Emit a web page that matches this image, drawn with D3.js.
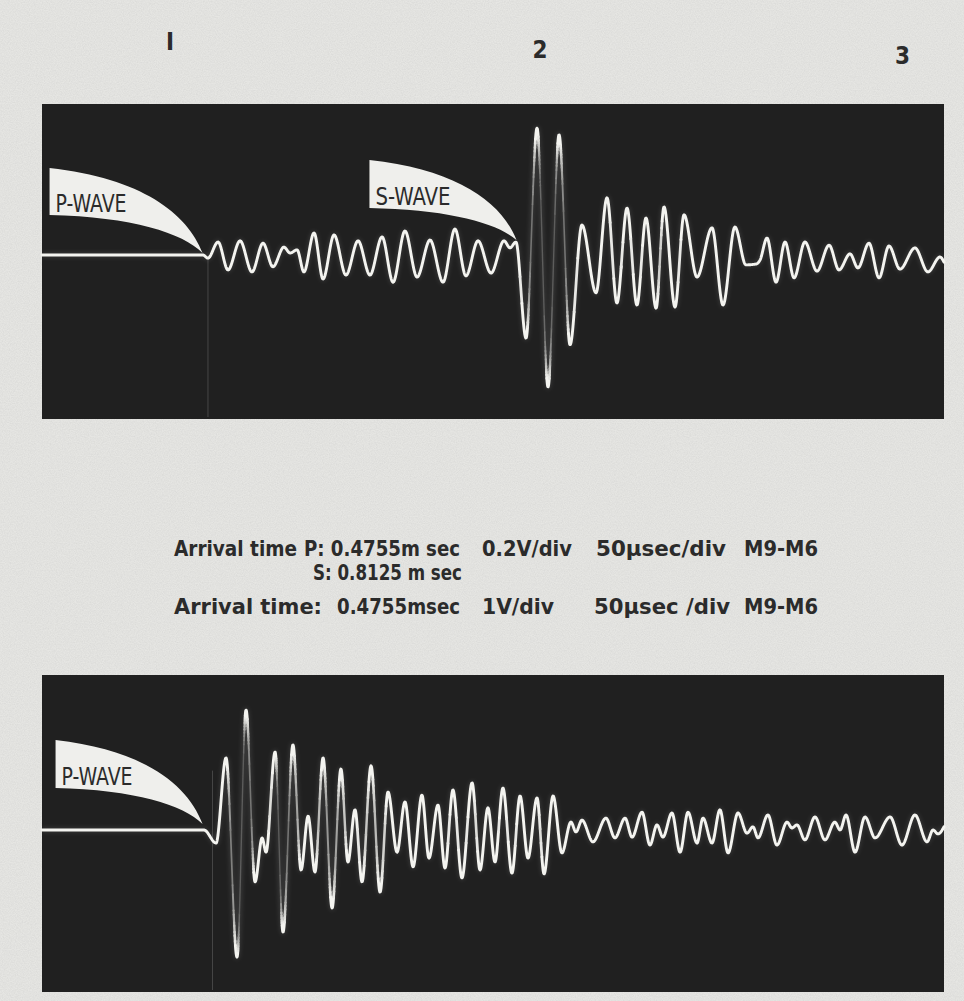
<!DOCTYPE html>
<html>
<head>
<meta charset="utf-8">
<script src="https://cdn.jsdelivr.net/npm/d3@7"></script>
<style>
  html, body { margin: 0; padding: 0; background: #e6e6e3; }
  svg { display: block; }
</style>
</head>
<body>
<script>
// ---------------------------------------------------------------
// Oscilloscope records, time base 50 µs/div (10 div full screen)
// ---------------------------------------------------------------
const timeDomainUs = [0, 500];

// Upper record, 0.2 V/div: turning points of the trace (time in µs, deflection in div)
const upperTimeUs = [0, 89.2, 92.0, 97.6, 103.1, 109.8, 116.4, 122.5, 128.0, 134.1, 137.5, 141.4,
  145.2, 150.8, 155.8, 161.9, 168.5, 175.2, 181.8, 188.5, 194.6, 201.2, 207.9, 215.1, 222.3,
  228.9, 235.0, 241.7, 248.9, 256.1, 259.4, 262.7, 268.3, 274.4, 280.5, 286.6, 292.7, 299.3,
  307.1, 313.2, 318.7, 324.3, 329.8, 334.8, 340.4, 344.8, 350.9, 355.9, 363.1, 371.4, 377.5,
  384.1, 390.2, 395.8, 398.0, 401.9, 406.9, 411.9, 416.9, 422.9, 429.6, 436.3, 441.8, 447.9,
  452.3, 458.4, 464.0, 469.5, 475.6, 483.9, 491.1, 497.8, 500];
const upperDiv = [0, 0, -0.08, 0.33, -0.38, 0.36, -0.43, 0.30, -0.30, 0.20, 0.05, 0.13,
  -0.43, 0.56, -0.61, 0.51, -0.51, 0.36, -0.51, 0.46, -0.69, 0.61, -0.56, 0.38, -0.69,
  0.66, -0.53, 0.36, -0.46, 0.36, 0.18, 0.33, -2.11, 3.22, -3.35, 3.05, -2.28, 0.76,
  -0.96, 1.45, -1.22, 1.19, -1.27, 0.94, -1.35, 1.22, -1.32, 1.02, -0.56, 0.69, -1.27,
  0.71, -0.25, -0.23, -0.13, 0.43, -0.69, 0.33, -0.58, 0.33, -0.41, 0.25, -0.38, 0.03,
  -0.33, 0.30, -0.58, 0.23, -0.36, 0.18, -0.43, -0.05, -0.18];

// Lower record, 1 V/div
const lowerTimeUs = [0, 89.8, 96.5, 102.0, 108.1, 113.1, 118.1, 122.0, 124.2, 129.2, 133.6,
  139.1, 143.6, 147.5, 151.3, 155.8, 160.8, 165.7, 169.6, 173.5, 177.4, 182.4, 187.4, 191.8,
  196.8, 201.2, 205.7, 210.6, 214.5, 219.5, 223.4, 227.8, 232.8, 238.4, 242.8, 247.2, 251.1,
  255.5, 260.5, 265.0, 269.4, 274.4, 278.3, 283.3, 288.2, 293.2, 296.0, 299.3, 305.4, 312.6,
  317.6, 323.2, 327.1, 332.6, 337.0, 340.9, 344.2, 349.2, 353.7, 358.1, 363.1, 366.4, 371.4,
  375.8, 380.3, 385.8, 390.8, 394.1, 396.9, 402.4, 407.4, 413.0, 415.7, 418.5, 422.9, 428.5,
  434.0, 439.5, 442.4, 445.7, 450.7, 456.2, 461.8, 470.1, 476.7, 483.9, 490.6, 493.9, 496.7, 500];
const lowerDiv = [0, 0, -0.33, 1.82, -3.21, 3.03, -1.31, -0.20, -0.56, 1.97, -2.58,
  2.15, -1.01, 0.35, -1.06, 1.82, -1.97, 1.54, -0.81, 0.51, -1.31, 1.62, -1.57, 0.96,
  -0.56, 0.71, -0.93, 0.88, -0.71, 0.63, -0.96, 1.01, -1.21, 1.19, -1.01, 0.56, -0.81,
  1.06, -1.09, 0.86, -0.71, 0.81, -1.11, 0.86, -0.58, 0.20, -0.05, 0.25, -0.30, 0.30,
  -0.20, 0.30, -0.18, 0.45, -0.38, 0.13, -0.18, 0.43, -0.56, 0.45, -0.33, 0.30, -0.33,
  0.51, -0.58, 0.43, -0.08, 0.08, -0.20, 0.38, -0.38, 0.20, 0.05, 0.13, -0.25, 0.33,
  -0.25, 0.20, 0.0, 0.38, -0.56, 0.33, -0.20, 0.33, -0.38, 0.38, -0.30, 0.0, -0.10, 0.08];

// Arrival flags (time in µs and deflection where the flag points)
const upperFlagLabels = ["P-WAVE", "S-WAVE"];
const upperFlagTimeUs = [89, 263];
const upperFlagDiv = [0.05, 0.38];
const lowerFlagLabels = ["P-WAVE"];
const lowerFlagTimeUs = [89];
const lowerFlagDiv = [0.15];

// Channel markers along the time base
const markerLabels = ["I", "2", "3"];
const markerTimeUs = [71, 276, 477];

// Caption lines
const captionLine1 = ["Arrival time", "P: 0.4755m sec", "0.2V/div", "50\u03bcsec/div", "M9-M6"];
const captionLine2 = ["S: 0.8125 m sec"];
const captionLine3 = ["Arrival time:", "0.4755msec", "1V/div", "50\u03bcsec /div", "M9-M6"];

// ---------------------------------------------------------------
const W = 964, H = 1001;
const PAPER = "#e6e6e3", SCREEN = "#202020", INK = "#2b2b2b";
const FONT = "'Liberation Sans Narrow', 'DejaVu Sans Condensed', 'Roboto', sans-serif";

const svg = d3.select("body").append("svg").attr("width", W).attr("height", H);
const defs = svg.append("defs");

const grain = defs.append("filter").attr("id", "grain").attr("x", 0).attr("y", 0).attr("width", 1).attr("height", 1);
grain.append("feTurbulence").attr("type", "fractalNoise").attr("baseFrequency", 0.85).attr("numOctaves", 2).attr("seed", 7);
grain.append("feColorMatrix").attr("type", "matrix")
  .attr("values", "0 0 0 0 0.45  0 0 0 0 0.45  0 0 0 0 0.45  0.45 0 0 0 -0.12");

const glow = defs.append("filter").attr("id", "glow").attr("x", "-5%").attr("y", "-20%").attr("width", "110%").attr("height", "140%");
glow.append("feGaussianBlur").attr("stdDeviation", 2.2);
const soft = defs.append("filter").attr("id", "soft");
soft.append("feGaussianBlur").attr("stdDeviation", 0.4);

svg.append("rect").attr("width", W).attr("height", H).attr("fill", PAPER);
svg.append("rect").attr("width", W).attr("height", H).attr("filter", "url(#grain)").attr("opacity", 0.8);

// Shared horizontal scale
const x = d3.scaleLinear().domain(timeDomainUs).range([42, 944]);

// Screen frames
const panels = [
  { top: 104, bottom: 419, base: 255, perDiv: 39.4,
    t: upperTimeUs, a: upperDiv, flags: upperFlagLabels, ft: upperFlagTimeUs, fa: upperFlagDiv,
    triggerUs: 92, triggerDiv: -0.05,
    shape: [{ w: 153, hTop: 85, hBot: 38 }, { w: 147, hTop: 80, hBot: 32 }] },
  { top: 675, bottom: 992, base: 830, perDiv: 39.6,
    t: lowerTimeUs, a: lowerDiv, flags: lowerFlagLabels, ft: lowerFlagTimeUs, fa: lowerFlagDiv,
    triggerUs: 94.5, triggerDiv: 1.5,
    shape: [{ w: 147, hTop: 84, hBot: 36 }] }
];

function flagPath(tx, ty, s) {
  const p = d3.path();
  p.moveTo(tx, ty);
  p.bezierCurveTo(tx - 0.13 * s.w, ty - 0.53 * s.hBot, tx - 0.46 * s.w, ty - 0.95 * s.hBot, tx - s.w, ty - s.hBot);
  p.lineTo(tx - s.w, ty - s.hTop);
  p.bezierCurveTo(tx - 0.4 * s.w, ty - 0.88 * s.hTop, tx - 0.1 * s.w, ty - 0.47 * s.hTop, tx, ty);
  p.closePath();
  return p.toString();
}

function drawTrace(g, y, tArr, aArr) {
  const pts = tArr.map((t, i) => [x(t), y(aArr[i])]);
  const d = d3.line().curve(d3.curveMonotoneX)(pts);

  // phosphor halo
  g.append("path").attr("d", d).attr("fill", "none").attr("stroke", "#ffffff")
    .attr("stroke-width", 5).attr("opacity", 0.1).attr("filter", "url(#glow)");

  // sample the curve so that fast beam sweeps are drawn dimmer and thinner
  const probe = g.append("path").attr("d", d).attr("fill", "none").attr("stroke", "none");
  const node = probe.node();
  const L = node.getTotalLength();
  const samples = [];
  for (let l = 0; l < L; l += 0.7) samples.push(node.getPointAtLength(l));
  samples.push(node.getPointAtLength(L));
  probe.remove();

  const levels = 16;
  const runs = [];
  let cur = null;
  for (let i = 1; i < samples.length; i++) {
    const p0 = samples[i - 1], p1 = samples[i];
    const sl = Math.abs(p1.y - p0.y) / Math.max(Math.abs(p1.x - p0.x), 1e-3);
    const k = Math.min(1, Math.max(0, (sl - 11) / (34 - 11)));
    const o = 1 - 0.8 * (k * k * (3 - 2 * k));
    const lv = Math.round(o * levels);
    if (!cur || cur.lv !== lv) { cur = { lv, pts: [[p0.x, p0.y]] }; runs.push(cur); }
    cur.pts.push([p1.x, p1.y]);
  }
  const color = d3.interpolateRgb("#3a3a3a", "#f4f4f0");
  const tg = g.append("g").attr("filter", "url(#soft)");
  tg.selectAll("path.run").data(runs).join("path").attr("class", "run")
    .attr("d", r => d3.line()(r.pts))
    .attr("fill", "none")
    .attr("stroke", r => color(r.lv / levels))
    .attr("stroke-width", r => 1.0 + 1.9 * (r.lv / levels))
    .attr("stroke-linecap", "round").attr("stroke-linejoin", "round");
}

panels.forEach(pn => {
  const g = svg.append("g");
  g.append("rect").attr("x", x(timeDomainUs[0])).attr("y", pn.top)
    .attr("width", x(timeDomainUs[1]) - x(timeDomainUs[0])).attr("height", pn.bottom - pn.top)
    .attr("fill", SCREEN);

  const y = d3.scaleLinear().domain([0, 1]).range([pn.base, pn.base - pn.perDiv]);

  // faint trigger line under the arrival
  g.append("line").attr("x1", x(pn.triggerUs)).attr("x2", x(pn.triggerUs))
    .attr("y1", y(pn.triggerDiv)).attr("y2", pn.bottom - 2)
    .attr("stroke", "#8a8a8a").attr("stroke-width", 0.9).attr("opacity", 0.4);

  drawTrace(g, y, pn.t, pn.a);

  pn.flags.forEach((lab, i) => {
    const s = pn.shape[i];
    const tx = x(pn.ft[i]), ty = y(pn.fa[i]);
    g.append("path").attr("d", flagPath(tx, ty, s)).attr("fill", "#efefec");
    g.append("text").attr("x", tx - s.w + 6).attr("y", ty - s.hBot - 3)
      .attr("font-family", FONT).attr("font-size", 24).attr("fill", INK)
      .attr("textLength", lab === "S-WAVE" ? 75 : 71).attr("lengthAdjust", "spacingAndGlyphs")
      .text(lab);
  });
});

// Channel markers
svg.selectAll("text.marker").data(markerLabels).join("text").attr("class", "marker")
  .attr("x", (d, i) => x(markerTimeUs[i]))
  .attr("y", (d, i) => [50, 58, 64][i])
  .attr("text-anchor", "middle")
  .attr("font-family", FONT).attr("font-weight", "bold").attr("font-size", 24).attr("fill", INK)
  .text(d => d);

// Caption block
const captionLayout = [
  { words: captionLine1, y: 556, spans: [[174, 297], [304, 460], [482, 572], [596, 726], [744, 818]] },
  { words: captionLine2, y: 580, spans: [[313, 462]] },
  { words: captionLine3, y: 614, spans: [[174, 322], [337, 460], [482, 554], [594, 730], [744, 818]] }
];
captionLayout.forEach(line => {
  line.words.forEach((w, i) => {
    const [a, b] = line.spans[i];
    svg.append("text").attr("x", a).attr("y", line.y)
      .attr("font-family", FONT).attr("font-weight", "bold").attr("font-size", 20.5).attr("fill", INK)
      .attr("textLength", b - a).attr("lengthAdjust", "spacingAndGlyphs")
      .text(w);
  });
});
</script>
</body>
</html>
